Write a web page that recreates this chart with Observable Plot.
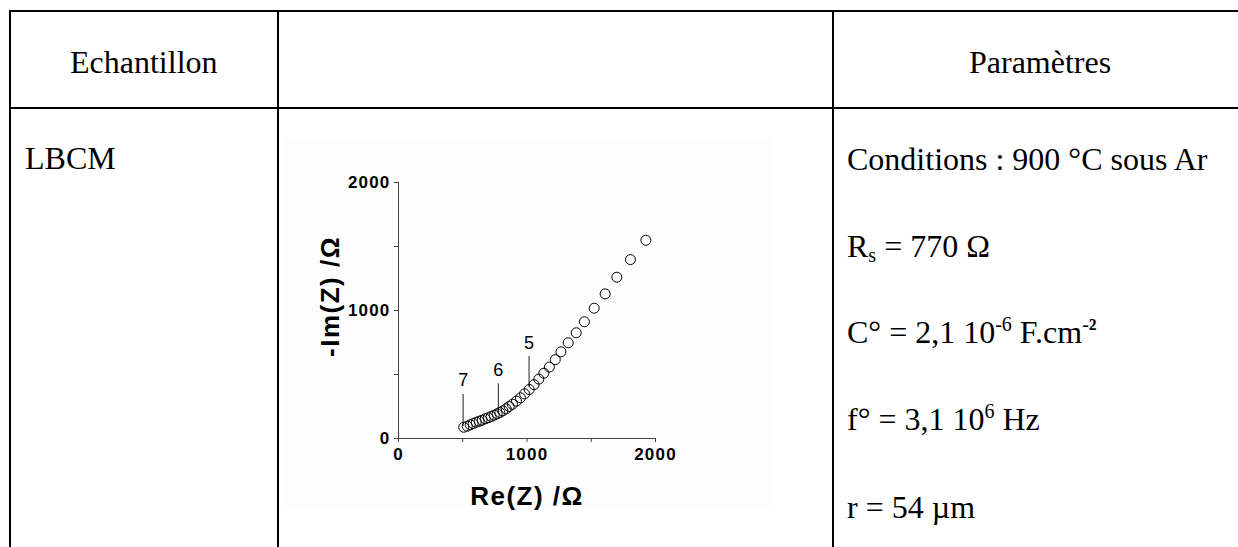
<!DOCTYPE html>
<html>
<head>
<meta charset="utf-8">
<script src="https://cdn.jsdelivr.net/npm/d3@7"></script>
<script src="https://cdn.jsdelivr.net/npm/@observablehq/plot@0.6"></script>
<style>
  html, body { margin: 0; padding: 0; background: #fff; }
  body { width: 1238px; height: 547px; position: relative; overflow: hidden; }
  #table { position: absolute; left: 0; top: 0; }
  #chartbg { position: absolute; left: 283px; top: 139px; width: 489px; height: 368px; background: #fdfdfd; }
  #chart { position: absolute; left: 283px; top: 139px; }
  #chart svg [aria-label="x-axis tick label"],
  #chart svg [aria-label="y-axis tick label"] { font-size: 17px; font-weight: bold; }
  #chart svg [aria-label="x-axis tick label"] text,
  #chart svg [aria-label="y-axis tick label"] text { letter-spacing: 1.2px; }
  #chart svg .title text { letter-spacing: 1.5px; }
</style>
</head>
<body>
<svg id="table" width="1238" height="547" font-family="'Liberation Serif', 'Times New Roman', serif" font-size="32" fill="#000">
  <rect x="9" y="10" width="1229" height="2" fill="#000"/>
  <rect x="9" y="107" width="1229" height="2" fill="#000"/>
  <rect x="9" y="10" width="2" height="537" fill="#000"/>
  <rect x="277" y="10" width="2" height="537" fill="#000"/>
  <rect x="832" y="10" width="2" height="537" fill="#000"/>
  <text x="70" y="73">Echantillon</text>
  <text x="969" y="73">Paramètres</text>
  <text x="25" y="169">LBCM</text>
  <text x="847" y="170">Conditions : 900 °C sous Ar</text>
  <text x="847" y="257">R<tspan font-size="20" dy="5">s</tspan><tspan dy="-5"> = 770 Ω</tspan></text>
  <text x="847" y="343">C° = 2,1 10<tspan font-size="20" dy="-12">-6</tspan><tspan dy="12"> F.cm</tspan><tspan font-size="20" dy="-12">-</tspan><tspan font-size="26" font-weight="bold" dy="6">²</tspan></text>
  <text x="847" y="430">f° = 3,1 10<tspan font-size="20" dy="-12">6</tspan><tspan dy="12"> Hz</tspan></text>
  <text x="847" y="518">r = 54 µm</text>
</svg>
<div id="chartbg"></div>
<div id="chart"></div>
<script>
// Nyquist data points (Re(Z), -Im(Z)) in Ohm
const reZ = [1925, 1805, 1699, 1608, 1523, 1447, 1383, 1321, 1264, 1220, 1174, 1131, 1092, 1055, 1017, 981, 949, 918, 887, 861, 838, 812, 788, 768, 745, 721, 698, 675, 651, 628, 605, 581, 558, 535, 508];
const imZ = [1549, 1398, 1260, 1130, 1018, 912, 826, 748, 677, 616, 558, 510, 464, 421, 383, 349, 318, 292, 268, 250, 232, 216, 203, 193, 182, 172, 162, 154, 143, 135, 127, 117, 107, 96, 88];

// Frequency decade markers (log f)
const markerLabels = ["7", "6", "5"];
const markerRe = [503, 777, 1016];
const markerImLow = [94, 193, 401];
const markerImHigh = [344, 427, 641];
const markerLabelIm = [453, 537, 745];

// Axis ticks
const ticks = [0, 500, 1000, 1500, 2000];
const tickLabels = [0, 1000, 2000];
const xTitle = "Re(Z) /Ω";
const yTitle = "-Im(Z) /Ω";

const points = reZ.map((x, i) => ({x, y: imZ[i]}));
const markers = markerLabels.map((label, i) => ({
  label, x: markerRe[i], y1: markerImLow[i], y2: markerImHigh[i], ly: markerLabelIm[i]
}));
const fmt = d => tickLabels.includes(d) ? String(d) : "";

const chart = Plot.plot({
  width: 489,
  height: 385,
  marginLeft: 115,
  marginRight: 117,
  marginTop: 43,
  marginBottom: 86,
  style: {background: "transparent", fontFamily: "'Liberation Sans', Arial, sans-serif", color: "#000", overflow: "visible"},
  x: {domain: [0, 2000]},
  y: {domain: [0, 2000]},
  marks: [
    Plot.axisX({ticks, tickFormat: fmt, tickSize: 4, tickPadding: 5, fontSize: 17, fontWeight: "bold", label: null, stroke: "#444"}),
    Plot.axisY({ticks, tickFormat: fmt, tickSize: 4, tickPadding: 4, fontSize: 17, fontWeight: "bold", label: null, stroke: "#444"}),
    Plot.ruleX([0], {stroke: "#444"}),
    Plot.ruleY([0], {stroke: "#444"}),
    Plot.ruleX(markers, {x: "x", y1: "y1", y2: "y2", stroke: "#222", strokeWidth: 1}),
    Plot.text(markers, {x: "x", y: "ly", text: "label", fontSize: 18, lineAnchor: "middle", fill: "#000"}),
    Plot.dot(points, {x: "x", y: "y", r: 5, stroke: "#000", strokeWidth: 1, fill: "none"}),
    Plot.text([xTitle], {frameAnchor: "bottom", textAnchor: "middle", lineAnchor: "bottom", dy: 66, fontSize: 26, fontWeight: "bold", className: "title"}),
    Plot.text([yTitle], {frameAnchor: "left", textAnchor: "middle", lineAnchor: "bottom", rotate: -90, dx: -60, dy: -14, fontSize: 26, fontWeight: "bold", className: "title"})
  ]
});
document.getElementById("chart").appendChild(chart);
</script>
</body>
</html>
